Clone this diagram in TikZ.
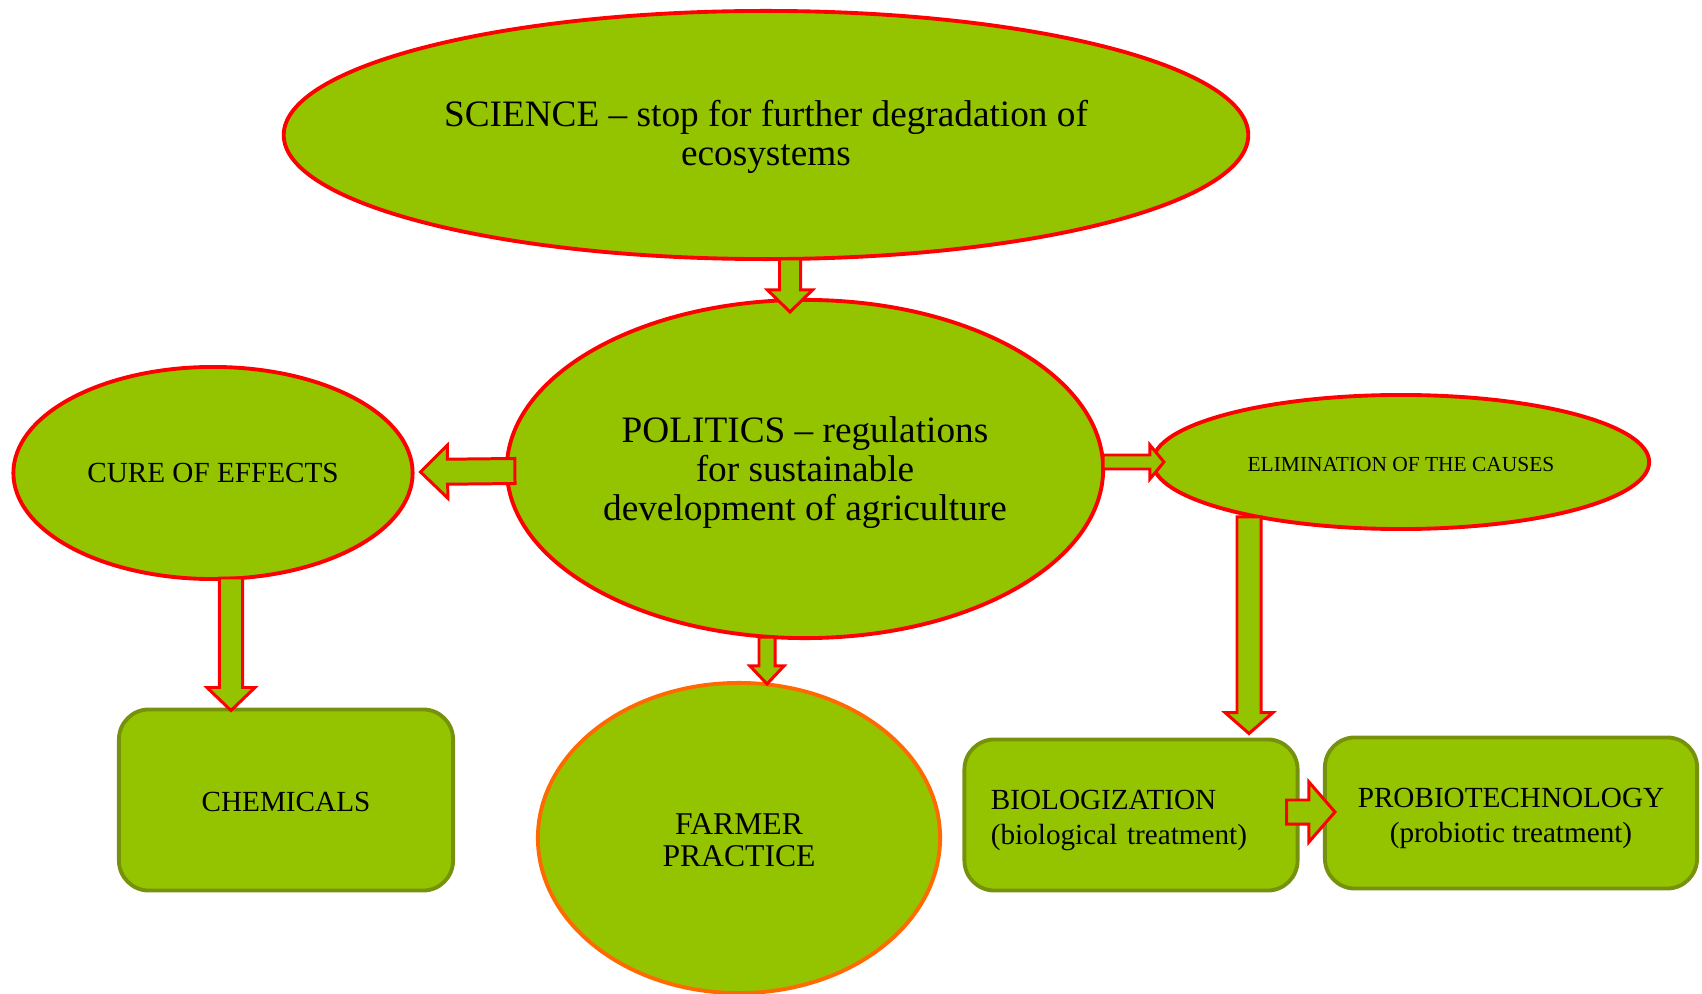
\documentclass[tikz,border=0pt]{standalone}
\usepackage{fontspec}
\setmainfont{Liberation Serif}
\usetikzlibrary{shapes.geometric,calc}
\definecolor{leaf}{HTML}{94C400}
\definecolor{boxrim}{HTML}{76920C}
\definecolor{farmrim}{HTML}{FF6A00}

% fat outlined arrow: start, tip, half shaft, half head, head length
\newcommand{\blockarrow}[5]{%
  \coordinate (bs) at #1;
  \coordinate (bt) at #2;
  \coordinate (bh) at ($(bt)!#5!(bs)$);
  \draw[blockarr] ($(bs)!#3!90:(bt)$) -- ($(bh)!#3!-90:(bs)$) -- ($(bh)!#4!-90:(bs)$) -- (bt)
    -- ($(bh)!#4!90:(bs)$) -- ($(bh)!#3!90:(bs)$) -- ($(bs)!#3!-90:(bt)$) -- cycle;
}
% taller first line, pushes the text a bit down in its shape
\newcommand{\drop}[1]{\rule{0pt}{\dimexpr0.7em+#1\relax}}

\begin{document}
\begin{tikzpicture}[x=0.01cm, y=-0.01cm,
  oval/.style={draw=red, fill=leaf, line width=1.1pt, ellipse, inner sep=0pt, align=center},
  greenbox/.style={draw=boxrim, fill=leaf, line width=1.1pt, rounded corners=0.3cm, inner sep=0pt, align=center},
  blockarr/.style={draw=red, fill=leaf, line width=0.85pt, line join=miter}]
\useasboundingbox (0,0) rectangle (1702,994);
\node[oval, minimum width=9.64cm, minimum height=2.48cm, font={\fontsize{10.6}{11.2}\selectfont}] (sci) at (766,135) {\drop{1pt}SCIENCE – stop for further degradation of\\ecosystems};
\node[oval, minimum width=5.96cm, minimum height=3.38cm, font={\fontsize{10.6}{11.1}\selectfont}] (pol) at (805,469) {\drop{2pt}POLITICS – regulations\\for sustainable\\development of agriculture};
\node[oval, minimum width=3.99cm, minimum height=2.12cm, font={\fontsize{8.3}{9.5}\selectfont}] (cure) at (213,473) {CURE OF EFFECTS};
\node[oval, minimum width=4.96cm, minimum height=1.34cm, font={\fontsize{6.1}{7}\selectfont}] (elim) at (1401,462) {\drop{1pt}ELIMINATION OF THE CAUSES};
\node[greenbox, minimum width=3.34cm, minimum height=1.81cm, font={\fontsize{8.3}{9.5}\selectfont}] (chem) at (286,800) {\drop{1pt}CHEMICALS};
\node[oval, draw=farmrim, minimum width=4.02cm, minimum height=3.1cm, font={\fontsize{9}{9}\selectfont}] (farm) at (739,838) {\drop{0.8pt}FARMER\\PRACTICE};
\node[greenbox, minimum width=3.33cm, minimum height=1.51cm, text width=2.8cm, align=left, font={\fontsize{8.3}{10}\selectfont}] (bio) at (1131,815) {\drop{2.6pt}BIOLOGIZATION\\(biological treatment)};
\node[greenbox, minimum width=3.72cm, minimum height=1.51cm, font={\fontsize{8.3}{10}\selectfont}] (prob) at (1511,813) {\drop{2.6pt}PROBIOTECHNOLOGY\\(probiotic treatment)};

\blockarrow{($(sci.south)+(24,-2)$)}{($(pol.north)+(-15,14)$)}{0.105cm}{0.225cm}{0.22cm}
\blockarrow{($(pol.west)+(10,2)$)}{($(cure.east)+(6,-1)$)}{0.125cm}{0.265cm}{0.27cm}
\blockarrow{($(pol.east)+(-2,-7)$)}{($(elim.west)+(13,0)$)}{0.07cm}{0.17cm}{0.14cm}
\blockarrow{($(elim.south)+(-152,-14)$)}{($(bio.north)+(118,-4)$)}{0.12cm}{0.24cm}{0.21cm}
\blockarrow{($(cure.south)+(18,-3)$)}{($(chem.north)+(-55,3)$)}{0.115cm}{0.24cm}{0.23cm}
\blockarrow{($(pol.south)+(-38,-3)$)}{($(farm.north)+(28,3)$)}{0.08cm}{0.17cm}{0.18cm}
\blockarrow{($(bio.east)+(-13,-3)$)}{($(prob.west)+(12,-1)$)}{0.12cm}{0.30cm}{0.26cm}
\end{tikzpicture}
\end{document}
